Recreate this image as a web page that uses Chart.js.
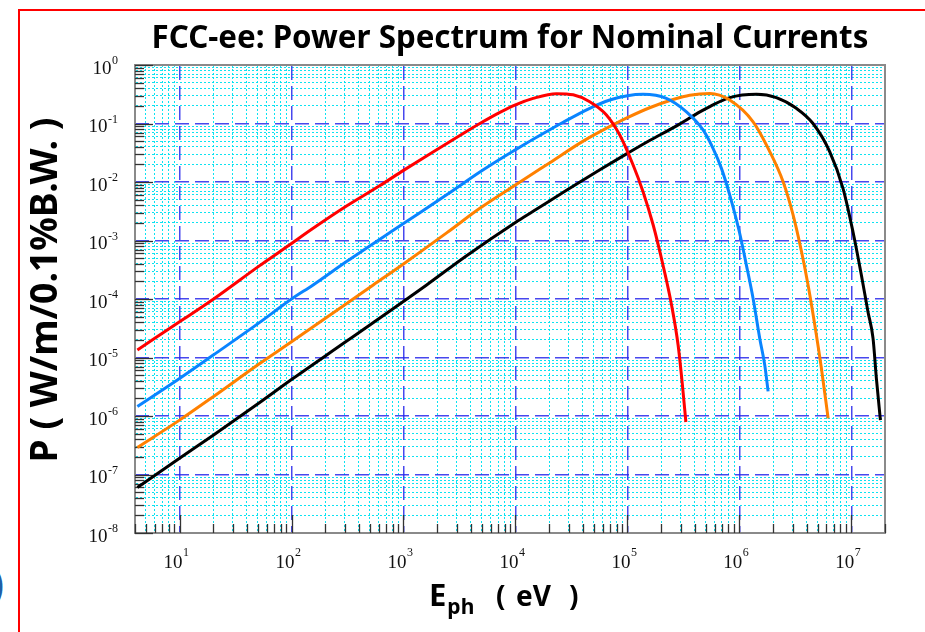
<!DOCTYPE html>
<html>
<head>
<meta charset="utf-8">
<script src="https://cdn.jsdelivr.net/npm/chart.js@4.4.1/dist/chart.umd.min.js"></script>
<style>
  html, body { margin: 0; padding: 0; background: #fff; }
  #wrap { position: relative; width: 925px; height: 632px; overflow: hidden; }
  #frame { position: absolute; left: 18px; top: 9px; width: 920px; height: 640px;
           border-left: 2px solid #ff0000; border-top: 2px solid #ff0000; box-sizing: border-box; }
  #paren { position: absolute; left: -9px; top: 560px; font: 42px "Liberation Sans", sans-serif; color: #1f5fa8; }
  canvas { position: absolute; left: 0; top: 0; }
</style>
</head>
<body>
<div id="wrap">
  <div id="frame"></div>
  <div id="paren">)</div>
  <canvas id="c" width="925" height="632"></canvas>
</div>
<script>
// ---- data (photon energy in eV, power in W/m/0.1%B.W.) ----
const redE   = [4.2, 10, 20, 52, 79, 100, 156, 310, 617, 1000, 1720, 3410, 4810, 7260, 10000, 14400, 23300, 32800, 46100, 65000, 85500, 112500, 138000, 170000, 208000, 248000, 284000, 310000, 333000];
const redP   = [1.35e-5, 4.07e-5, 9.9e-5, 3.72e-4, 6.46e-4, 8.9e-4, 1.62e-3, 3.89e-3, 8.7e-3, 1.58e-2, 3.02e-2, 6.76e-2, 0.1, 0.155, 0.209, 0.269, 0.324, 0.309, 0.236, 0.14, 0.0635, 0.0195, 6.84e-3, 1.84e-3, 3.8e-4, 7.9e-5, 1.62e-5, 3.4e-6, 7.9e-7];

const blueE  = [4.2, 10, 20, 52, 100, 156, 310, 1000, 2430, 4810, 7260, 10000, 14400, 26700, 46100, 69700, 100000, 138000, 223000, 337000, 474000, 582000, 692000, 820000, 1000000, 1156000, 1327000, 1520000, 1687000, 1807000];
const blueP  = [1.45e-6, 4.37e-6, 1.1e-5, 3.98e-5, 1.0e-4, 1.74e-4, 4.37e-4, 1.95e-3, 6.03e-3, 1.48e-2, 2.45e-2, 3.55e-2, 5.37e-2, 0.105, 0.182, 0.252, 0.299, 0.316, 0.269, 0.158, 7.76e-2, 3.76e-2, 1.71e-2, 6.03e-3, 1.41e-3, 3.8e-4, 1.02e-4, 2.14e-5, 7.4e-6, 2.63e-6];

const orangeE = [4.2, 10, 20, 52, 100, 537, 1000, 2430, 4810, 10000, 20300, 40300, 80000, 100000, 158000, 256000, 360000, 545000, 820000, 1327000, 1870000, 2460000, 3020000, 3590000, 4110000, 4720000, 5410000, 6210000];
const orangeP = [2.9e-7, 8.5e-7, 2.14e-6, 7.9e-6, 1.86e-5, 1.74e-4, 3.98e-4, 1.35e-3, 3.55e-3, 8.9e-3, 2.14e-2, 5.0e-2, 0.102, 0.126, 0.186, 0.257, 0.305, 0.327, 0.252, 0.107, 0.0331, 1.01e-2, 2.75e-3, 6.5e-4, 1.74e-4, 3.6e-5, 6.5e-6, 9.1e-7];

const blackE = [4.2, 10, 20, 52, 100, 316, 1610, 3660, 10000, 14400, 28600, 56800, 100000, 158000, 275000, 444000, 545000, 820000, 1420000, 2140000, 3230000, 4550000, 6410000, 8430000, 10350000, 12300000, 14100000, 15630000, 16750000, 18200000];
const blackP = [6.0e-8, 1.9e-7, 4.7e-7, 1.7e-6, 4.2e-6, 1.95e-5, 1.74e-4, 5.5e-4, 2.04e-3, 3.16e-3, 7.24e-3, 1.62e-2, 3.09e-2, 5.13e-2, 9.12e-2, 0.158, 0.195, 0.277, 0.316, 0.277, 0.182, 0.1, 0.0331, 7.8e-3, 1.41e-3, 2.57e-4, 6.0e-5, 2.14e-5, 4.4e-6, 8.5e-7];

// tick labels (decade exponents)
const xTickExps = [1, 2, 3, 4, 5, 6, 7];
const yTickExps = [-8, -7, -6, -5, -4, -3, -2, -1, 0];

const titleText  = 'FCC-ee: Power Spectrum for Nominal Currents';
const yTitleText = 'P ( W/m/0.1%B.W. )';

// ---- helpers ----
function pts(xs, ys) { return xs.map((v, i) => ({ x: v, y: ys[i] })); }
function minorTicks(min, max) {
  const out = [];
  for (let e = Math.floor(Math.log10(min)); e <= Math.ceil(Math.log10(max)); e++) {
    for (let k = 1; k <= 9; k++) {
      const v = k * Math.pow(10, e);
      if (v >= min * 0.999 && v <= max * 1.001) out.push({ value: v, major: k === 1 });
    }
  }
  return out;
}
function decadeTicks(exps) { return exps.map(e => ({ value: Math.pow(10, e), major: true })); }
const isDecade = v => Math.abs(Math.log10(v) - Math.round(Math.log10(v))) < 1e-9;

const XMIN = 4, XMAX = 2e7, YMIN = 1e-8, YMAX = 1;
const CYAN = 'rgba(0,225,240,0.95)';
const BLUE = 'rgba(40,40,235,0.85)';
const FRAME = '#8a8a8a';
const TFONT = '"Noto Sans", sans-serif';

const decor = {
  id: 'decor',
  beforeDatasetsDraw(chart) {
    const { ctx, chartArea: a, scales } = chart;
    ctx.save();
    ctx.strokeStyle = '#333';
    ctx.lineWidth = 1.3;
    scales.y.ticks.forEach(t => {
      const py = Math.round(scales.y.getPixelForValue(t.value)) + 0.5;
      const len = isDecade(t.value) ? 18 : 9;
      ctx.beginPath(); ctx.moveTo(a.left, py); ctx.lineTo(a.left + len, py); ctx.stroke();
    });
    scales.x.ticks.forEach(t => {
      const px = Math.round(scales.x.getPixelForValue(t.value)) + 0.5;
      const len = isDecade(t.value) ? 18 : 9;
      ctx.beginPath(); ctx.moveTo(px, a.bottom); ctx.lineTo(px, a.bottom - len); ctx.stroke();
    });
    ctx.restore();
  },
  afterDraw(chart) {
    const { ctx, scales } = chart;
    ctx.save();
    ctx.fillStyle = '#111';
    yTickExps.forEach(e => {
      const py = scales.y.getPixelForValue(Math.pow(10, e));
      const sup = String(e);
      ctx.font = '12px "Liberation Serif", serif';
      ctx.textAlign = 'right'; ctx.textBaseline = 'alphabetic';
      const w = ctx.measureText(sup).width;
      ctx.fillText(sup, 118, py - 1);
      ctx.font = '19px "Liberation Serif", serif';
      ctx.fillText('10', 118 - w - 0.5, py + 8.5);
    });
    xTickExps.forEach(e => {
      const px = scales.x.getPixelForValue(Math.pow(10, e));
      ctx.font = '19px "Liberation Serif", serif';
      ctx.textAlign = 'right'; ctx.textBaseline = 'alphabetic';
      ctx.fillText('10', px + 3, 568);
      ctx.font = '12px "Liberation Serif", serif';
      ctx.textAlign = 'left';
      ctx.fillText(String(e), px + 3.5, 556);
    });
    // main title
    ctx.fillStyle = '#000';
    ctx.textAlign = 'center'; ctx.textBaseline = 'alphabetic';
    ctx.font = 'bold 100px ' + TFONT;
    let s = 100 * 717 / ctx.measureText(titleText).width;
    ctx.font = `bold ${s}px ` + TFONT;
    ctx.fillText(titleText, 510, 48);
    // y axis title
    ctx.save();
    ctx.translate(46, 290);
    ctx.rotate(-Math.PI / 2);
    ctx.font = 'bold 100px ' + TFONT;
    s = 100 * 345 / ctx.measureText(yTitleText).width;
    ctx.font = `bold ${s}px ` + TFONT;
    ctx.textAlign = 'center'; ctx.textBaseline = 'middle';
    ctx.fillText(yTitleText, 0, 0);
    ctx.restore();
    // x axis title: E_ph ( eV )
    ctx.textAlign = 'left'; ctx.textBaseline = 'alphabetic';
    ctx.font = 'bold 31px ' + TFONT;
    ctx.fillText('E', 429, 606);
    const ew = ctx.measureText('E').width;
    ctx.font = 'bold 21px ' + TFONT;
    ctx.fillText('ph', 429 + ew + 1, 614);
    ctx.font = 'bold 28px ' + TFONT;
    ctx.fillText('(', 496, 606);
    ctx.fillText('eV', 516, 606);
    ctx.fillText(')', 569, 606);
    ctx.restore();
  }
};

const lineDs = (label, xs, ys, color) => ({
  label, data: pts(xs, ys), borderColor: color, backgroundColor: color,
  borderWidth: 3, pointRadius: 0, fill: false, cubicInterpolationMode: 'monotone',
  xAxisID: 'x', yAxisID: 'y'
});

new Chart(document.getElementById('c'), {
  type: 'line',
  data: {
    datasets: [
      lineDs('red', redE, redP, '#ff0000'),
      lineDs('blue', blueE, blueP, '#0a84ff'),
      lineDs('orange', orangeE, orangeP, '#ff8000'),
      lineDs('black', blackE, blackP, '#000000')
    ]
  },
  options: {
    responsive: false,
    animation: false,
    devicePixelRatio: 1,
    layout: { padding: { left: 135, top: 65, right: 40, bottom: 99 } },
    plugins: { legend: { display: false }, tooltip: { enabled: false }, title: { display: false } },
    scales: {
      x: {
        type: 'logarithmic', position: 'bottom', min: XMIN, max: XMAX,
        afterBuildTicks: sc => { sc.ticks = minorTicks(XMIN, XMAX); },
        ticks: { display: false },
        grid: { drawTicks: false, lineWidth: 1, color: c => (c.tick && isDecade(c.tick.value)) ? 'rgba(0,0,0,0)' : CYAN },
        border: { display: true, color: FRAME, width: 2, dash: [2, 2] }
      },
      y: {
        type: 'logarithmic', position: 'left', min: YMIN, max: YMAX,
        afterBuildTicks: sc => { sc.ticks = minorTicks(YMIN, YMAX); },
        ticks: { display: false },
        grid: { drawTicks: false, lineWidth: 1, color: c => (c.tick && isDecade(c.tick.value)) ? 'rgba(0,0,0,0)' : CYAN },
        border: { display: true, color: FRAME, width: 2, dash: [2, 2] }
      },
      x2: {
        type: 'logarithmic', position: 'top', min: XMIN, max: XMAX,
        afterBuildTicks: sc => { sc.ticks = decadeTicks(xTickExps); },
        ticks: { display: false },
        grid: { drawTicks: false, lineWidth: 1.5, color: BLUE },
        border: { display: true, color: FRAME, width: 2, dash: [14, 6] }
      },
      y2: {
        type: 'logarithmic', position: 'right', min: YMIN, max: YMAX,
        afterBuildTicks: sc => { sc.ticks = decadeTicks(yTickExps.slice(1, -1)); },
        ticks: { display: false },
        grid: { drawTicks: false, lineWidth: 1.5, color: BLUE },
        border: { display: true, color: FRAME, width: 2, dash: [14, 6] }
      }
    }
  },
  plugins: [decor]
});
</script>
</body>
</html>
